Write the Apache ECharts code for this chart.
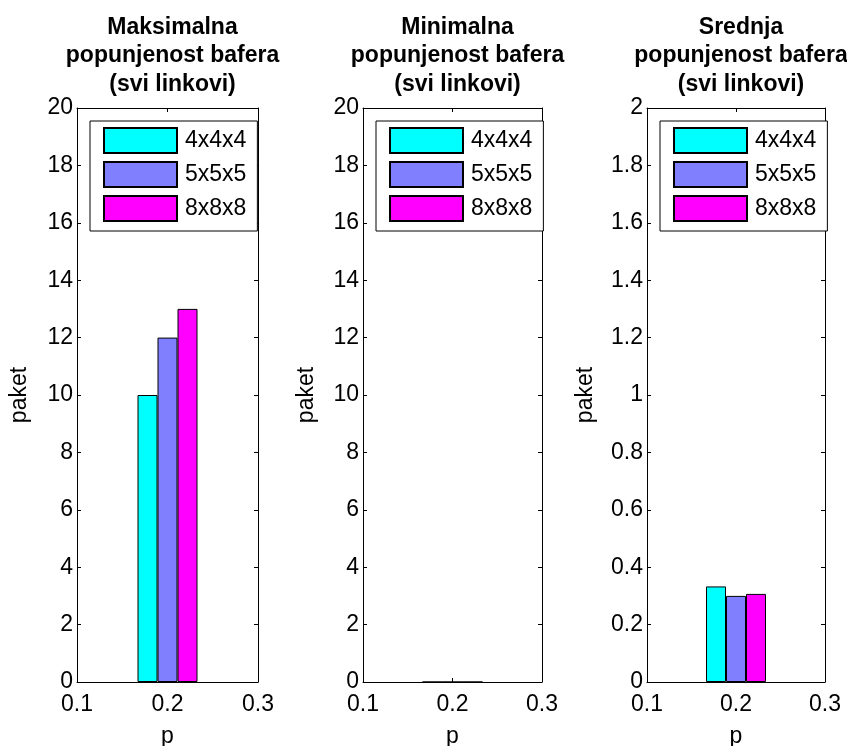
<!DOCTYPE html>
<html>
<head>
<meta charset="utf-8">
<script src="https://cdn.jsdelivr.net/npm/echarts@6/dist/echarts.min.js"></script>
<style>
  html, body { margin: 0; padding: 0; background: #fff; }
  #chart { width: 847px; height: 746px; }
</style>
</head>
<body>
<div id="chart"></div>
<script>
// Buffer occupancy per network size, at load p = 0.2
const panelTitles = [
  'Maksimalna\npopunjenost bafera\n(svi linkovi)',
  'Minimalna\npopunjenost bafera\n(svi linkovi)',
  'Srednja\npopunjenost bafera\n(svi linkovi)'
];
const sizes = ['4x4x4', '5x5x5', '8x8x8'];
const sizeColors = ['#00FFFF', '#8080FF', '#FF00FF'];
const pValue = 0.2;
const maxFill = [10, 12, 13];
const minFill = [0, 0, 0];
const meanFill = [0.333, 0.3, 0.307];
const panelValues = [maxFill, minFill, meanFill];
const yMax = [20, 20, 2];
const yStep = [2, 2, 0.2];
const xTicks = { min: 0.1, max: 0.3, interval: 0.1 };

const grids = [
  { left: 77, top: 108, width: 181, height: 574, outerBoundsMode: 'none' },
  { left: 363, top: 108, width: 179, height: 574, outerBoundsMode: 'none' },
  { left: 647, top: 108, width: 178, height: 574, outerBoundsMode: 'none' }
];
const yNameGap = [46, 45, 50];

const font = 'Arial, "Liberation Sans", sans-serif';
const fs = 23;
const axisColor = '#000';

const option = {
  animation: false,
  backgroundColor: '#fff',
  textStyle: { fontFamily: font },
  title: [],
  grid: grids,
  xAxis: [],
  yAxis: [],
  legend: [],
  series: []
};

grids.forEach((g, i) => {
  option.title.push({
    text: panelTitles[i],
    left: g.left + g.width / 2,
    textAlign: 'center',
    top: 8,
    textStyle: { fontFamily: font, fontSize: fs, fontWeight: 'bold', color: '#000', lineHeight: 28.5 }
  });

  // bottom axis with labels, top mirror axis
  option.xAxis.push({
    type: 'value', gridIndex: i, position: 'bottom',
    min: xTicks.min, max: xTicks.max, interval: xTicks.interval,
    name: 'p', nameLocation: 'middle', nameGap: 43,
    nameTextStyle: { fontFamily: font, fontSize: fs, color: '#000' },
    axisLine: { show: true, onZero: false, lineStyle: { color: axisColor, width: 1 } },
    axisTick: { show: true, inside: true, length: 4, lineStyle: { color: axisColor } },
    axisLabel: { fontFamily: font, fontSize: fs, color: '#000', margin: 11 },
    splitLine: { show: false }
  });
  option.xAxis.push({
    type: 'value', gridIndex: i, position: 'top',
    min: xTicks.min, max: xTicks.max, interval: xTicks.interval,
    axisLine: { show: true, onZero: false, lineStyle: { color: axisColor, width: 1 } },
    axisTick: { show: true, inside: true, length: 4, lineStyle: { color: axisColor } },
    axisLabel: { show: false },
    splitLine: { show: false }
  });

  option.yAxis.push({
    type: 'value', gridIndex: i, position: 'left',
    min: 0, max: yMax[i], interval: yStep[i],
    name: 'paket', nameLocation: 'middle', nameGap: yNameGap[i],
    nameTextStyle: { fontFamily: font, fontSize: fs, color: '#000' },
    axisLine: { show: true, onZero: false, lineStyle: { color: axisColor, width: 1 } },
    axisTick: { show: true, inside: true, length: 4, lineStyle: { color: axisColor } },
    axisLabel: { fontFamily: font, fontSize: fs, color: '#000', margin: 4 },
    splitLine: { show: false }
  });
  option.yAxis.push({
    type: 'value', gridIndex: i, position: 'right',
    min: 0, max: yMax[i], interval: yStep[i],
    axisLine: { show: true, onZero: false, lineStyle: { color: axisColor, width: 1 } },
    axisTick: { show: true, inside: true, length: 4, lineStyle: { color: axisColor } },
    axisLabel: { show: false },
    splitLine: { show: false }
  });

  option.legend.push({
    data: sizes,
    orient: 'vertical',
    left: g.left + 13,
    top: 121,
    icon: 'rect',
    itemWidth: 73,
    itemHeight: 25,
    itemGap: 7,
    padding: [6, 11, 9, 13],
    backgroundColor: '#fff',
    borderColor: '#000',
    borderWidth: 1,
    borderRadius: 0,
    textStyle: { fontFamily: font, fontSize: fs, color: '#000', padding: [0, 0, 0, 3] },
    selectedMode: false,
    z: 10
  });

  sizes.forEach((name, k) => {
    option.series.push({
      type: 'bar',
      name: name,
      xAxisIndex: i * 2,
      yAxisIndex: i * 2,
      barWidth: 20,
      barGap: '0%',
      data: [[pValue, panelValues[i][k]]],
      itemStyle: { color: sizeColors[k], borderColor: '#000', borderWidth: 1 },
      emphasis: { disabled: true }
    });
  });
});

const chart = echarts.init(document.getElementById('chart'), null, { renderer: 'canvas' });
chart.setOption(option);
</script>
</body>
</html>
